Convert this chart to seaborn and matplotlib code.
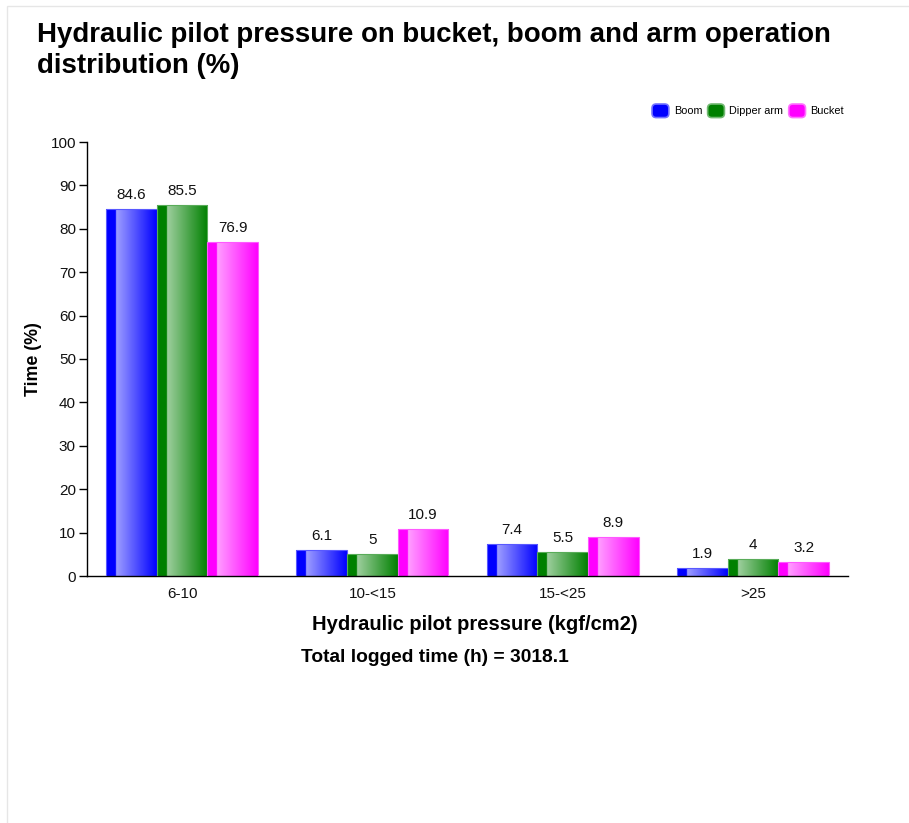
import numpy as np
import pandas as pd
import seaborn as sns
import matplotlib.pyplot as plt
from matplotlib.colors import LinearSegmentedColormap, to_rgb
from matplotlib.patches import Patch, FancyBboxPatch, Rectangle
from matplotlib.legend_handler import HandlerPatch

categories = ["6-10", "10-<15", "15-<25", ">25"]
series = ["Boom", "Dipper arm", "Bucket"]
boom = [84.6, 6.1, 7.4, 1.9]
dipper_arm = [85.5, 5.0, 5.5, 4.0]
bucket = [76.9, 10.9, 8.9, 3.2]
colors = ["#0000ff", "#008000", "#ff00ff"]
total_hours = 3018.1

df = pd.DataFrame({
    "pressure": categories * 3,
    "series": [s for s in series for _ in categories],
    "value": boom + dipper_arm + bucket,
})

sns.set_style("white")
plt.rcParams["font.family"] = ["Liberation Sans", "DejaVu Sans"]
plt.rcParams["text.color"] = "black"
plt.rcParams["axes.labelcolor"] = "black"

W, H = 909, 823
fig = plt.figure(figsize=(W / 100, H / 100), dpi=100)
ax = fig.add_axes([87 / W, 1 - 576 / H, (848 - 87) / W, (576 - 142) / H])

sns.barplot(data=df, x="pressure", y="value", hue="series", order=categories,
            hue_order=series, palette=colors, width=0.8, ax=ax, legend=False,
            edgecolor="none")


def grad_cmap(c):
    r = np.array(to_rgb(c))
    light = r + (1 - r) * 0.62
    return LinearSegmentedColormap.from_list(
        "g", [(0, r), (0.19, r), (0.2, light), (1, r)])


# gradient fill on each bar (seaborn draws hue levels in order)
n = len(categories)
for i, bar in enumerate(ax.patches[:n * len(series)]):
    col = colors[i // n]
    x0, y0 = bar.get_x(), bar.get_y()
    w, h = bar.get_width(), bar.get_height()
    img = ax.imshow(np.linspace(0, 1, 256).reshape(1, -1), cmap=grad_cmap(col),
                    extent=[x0, x0 + w, y0, y0 + h], aspect="auto", zorder=2,
                    interpolation="bilinear")
    img.set_clip_path(bar)
    edge = np.array(to_rgb(col))
    ax.add_patch(Rectangle((x0, y0), w, h, fill=False, lw=0.8, zorder=3,
                           edgecolor=tuple(edge + (1 - edge) * 0.35)))
    ax.text(x0 + w / 2, y0 + h + 1.6, f"{h:g}", ha="center", va="bottom",
            fontsize=11, color="#111111")

ax.set_xlim(-0.5, n - 0.5)
ax.set_ylim(0, 100)
ax.set_yticks(range(0, 101, 10))
ax.set_xticks(range(n))
ax.set_xticklabels(categories)
ax.set_xticks(np.arange(-0.5, n), minor=True)
ax.tick_params(axis="x", which="major", length=0, pad=8, labelsize=11, labelcolor="#111111")
ax.tick_params(axis="x", which="minor", length=7, width=1, direction="out", color="black")
ax.tick_params(axis="y", length=6, width=1, direction="out", left=True,
               labelsize=11, labelcolor="#111111", color="black", pad=2)
for s in ["top", "right"]:
    ax.spines[s].set_visible(False)
for s in ["left", "bottom"]:
    ax.spines[s].set_color("black")
    ax.spines[s].set_linewidth(1)

ax.set_ylabel("Time (%)", fontsize=12.8, fontweight="bold", labelpad=6)
ax.set_xlabel("Hydraulic pilot pressure (kgf/cm2)", fontsize=14.5,
              fontweight="bold", labelpad=9)
ax.xaxis.set_label_coords((475 - 87) / (848 - 87), -0.089)
fig.text(435 / W, 1 - 658 / H,
         f"Total logged time (h) = {total_hours}", ha="center", va="center",
         fontsize=13.8, fontweight="bold")

title_lines = ["Hydraulic pilot pressure on bucket, boom and arm operation",
               "distribution (%)"]
for k, line in enumerate(title_lines):
    fig.text(37 / W, 1 - (42 + 31 * k) / H, line, ha="left", va="baseline",
             fontsize=19.9, fontweight="bold")


def round_patch(legend, orig_handle, xdescent, ydescent, width, height, fontsize):
    return FancyBboxPatch((-xdescent, -ydescent), width, height,
                          boxstyle="round,pad=0,rounding_size=3")


handles = []
for c in colors:
    r = np.array(to_rgb(c))
    handles.append(Patch(facecolor=c, edgecolor=tuple(r + (1 - r) * 0.45), lw=1.2))
fig.legend(handles, series, loc="upper right",
           bbox_to_anchor=(844 / W, 1 - 104 / H), ncol=3, frameon=False,
           fontsize=7.8, handlelength=1.55, handleheight=1.55, handletextpad=0.45,
           columnspacing=0.5, borderaxespad=0, borderpad=0,
           handler_map={Patch: HandlerPatch(patch_func=round_patch)})

fig.add_artist(Rectangle((7 / W, -0.1), 1.2, 1 - 6 / H + 0.1, fill=False,
                         edgecolor="#e6e6e6", lw=1, transform=fig.transFigure))

fig.savefig("out.png", dpi=100)
